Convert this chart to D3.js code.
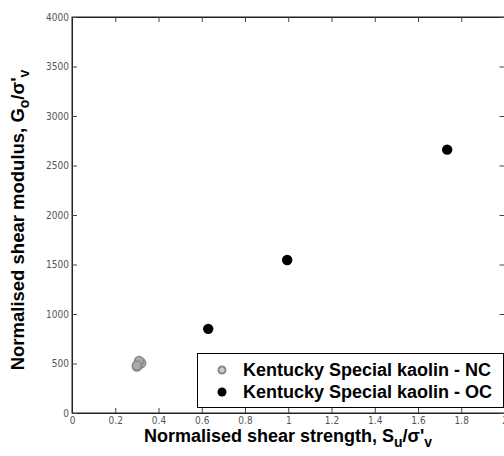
<!DOCTYPE html>
<html>
<head>
<script src="https://cdn.jsdelivr.net/npm/d3@7"></script>
<style>
html, body { margin: 0; background: #fff; }
svg { display: block; font-family: "Liberation Sans", Arial, sans-serif; }
</style>
</head>
<body>
<div id="chart"></div>
<script>
// Kentucky Special kaolin, normally consolidated
var ncStrength = [0.30, 0.31, 0.32, 0.31, 0.30];
var ncModulus  = [470, 490, 505, 525, 480];
// Kentucky Special kaolin, overconsolidated
var ocStrength = [0.63, 0.995, 1.735];
var ocModulus  = [850, 1545, 2660];

var xTicks = [0, 0.2, 0.4, 0.6, 0.8, 1, 1.2, 1.4, 1.6, 1.8, 2];
var yTicks = [0, 500, 1000, 1500, 2000, 2500, 3000, 3500, 4000];
var legendLabels = ["Kentucky Special kaolin - NC", "Kentucky Special kaolin - OC"];

var W = 504, H = 456;
var m = {left: 72, top: 17, right: 0, bottom: 43};

var svg = d3.select("#chart").append("svg")
    .attr("width", W).attr("height", H);

var x = d3.scaleLinear().domain([0, 2]).range([m.left, 504.5]);
var y = d3.scaleLinear().domain([0, 4000]).range([413, m.top]);

// frame
svg.append("rect")
    .attr("x", x(0)).attr("y", y(4000))
    .attr("width", x(2) - x(0)).attr("height", y(0) - y(4000))
    .attr("fill", "none").attr("stroke", "#222").attr("stroke-width", 1);

// axes with inward ticks
var xAxis = svg.append("g").attr("transform", "translate(0," + y(0) + ")")
    .call(d3.axisBottom(x).tickValues(xTicks).tickSizeInner(-5).tickSizeOuter(0)
      .tickFormat(function(d) { return d; }));
var xTop = svg.append("g").attr("transform", "translate(0," + y(4000) + ")")
    .call(d3.axisTop(x).tickValues(xTicks).tickSizeInner(-5).tickSizeOuter(0).tickFormat(""));
var yAxis = svg.append("g").attr("transform", "translate(" + x(0) + ",0)")
    .call(d3.axisLeft(y).tickValues(yTicks).tickSizeInner(-5).tickSizeOuter(0)
      .tickFormat(d3.format("d")));
var yRight = svg.append("g").attr("transform", "translate(" + x(2) + ",0)")
    .call(d3.axisRight(y).tickValues(yTicks).tickSizeInner(-5).tickSizeOuter(0).tickFormat(""));

[xAxis, xTop, yAxis, yRight].forEach(function(a) {
  a.select(".domain").attr("stroke", "#222");
  a.selectAll(".tick line").attr("stroke", "#444");
  a.selectAll("text").attr("fill", "#555").attr("font-size", 10)
    .attr("font-family", "'DejaVu Sans Condensed', 'Liberation Sans', sans-serif");
});
xAxis.selectAll("text").attr("y", 4).attr("dy", "0.71em");
yAxis.selectAll("text").attr("x", -3);

// data points
svg.append("g").selectAll("circle")
    .data(ncStrength.map(function(d, i) { return [d, ncModulus[i]]; }))
  .enter().append("circle")
    .attr("cx", function(d) { return x(d[0]); })
    .attr("cy", function(d) { return y(d[1]); })
    .attr("r", 4.5)
    .attr("fill", "#aaa").attr("stroke", "#888").attr("stroke-width", 1.5);

svg.append("g").selectAll("circle")
    .data(ocStrength.map(function(d, i) { return [d, ocModulus[i]]; }))
  .enter().append("circle")
    .attr("cx", function(d) { return x(d[0]); })
    .attr("cy", function(d) { return y(d[1]); })
    .attr("r", 5.2)
    .attr("fill", "#000");

// legend
var lg = svg.append("g");
lg.append("rect")
    .attr("x", 197.5).attr("y", 353.5).attr("width", 306).attr("height", 54)
    .attr("fill", "#fff").attr("stroke", "#000");
legendLabels.forEach(function(t, i) {
  var ly = 370 + i * 22;
  if (i === 0) {
    lg.append("circle").attr("cx", 222).attr("cy", ly).attr("r", 3.5)
      .attr("fill", "#ccc").attr("stroke", "#888").attr("stroke-width", 2);
  } else {
    lg.append("circle").attr("cx", 222).attr("cy", ly).attr("r", 4.5).attr("fill", "#000");
  }
  lg.append("text").attr("x", 243).attr("y", ly + 6)
    .attr("font-size", 18).attr("font-weight", "bold").attr("fill", "#000")
    .text(t);
});

// axis titles
var xt = svg.append("text").attr("x", 288).attr("y", 442)
    .attr("text-anchor", "middle").attr("font-size", 18).attr("font-weight", "bold");
xt.append("tspan").text("Normalised shear strength, S");
xt.append("tspan").attr("font-size", 14).attr("dy", 5).text("u");
xt.append("tspan").attr("dy", -5).text("/\u03c3'");
xt.append("tspan").attr("font-size", 14).attr("dy", 5).text("v");

var yt = svg.append("text")
    .attr("transform", "translate(24,220) rotate(-90)")
    .attr("text-anchor", "middle").attr("font-size", 18.5).attr("font-weight", "bold");
yt.append("tspan").text("Normalised shear modulus, G");
yt.append("tspan").attr("font-size", 14).attr("dy", 5).text("o");
yt.append("tspan").attr("dy", -5).text("/\u03c3'");
yt.append("tspan").attr("font-size", 14).attr("dy", 5).text("v");
</script>
</body>
</html>
